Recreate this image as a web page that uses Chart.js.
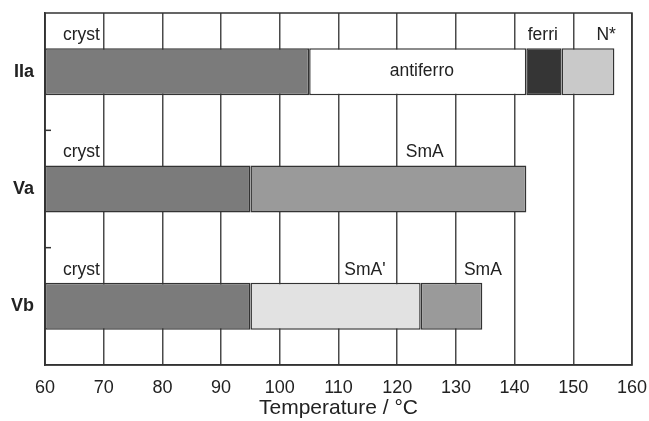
<!DOCTYPE html>
<html>
<head>
<meta charset="utf-8">
<script src="https://cdn.jsdelivr.net/npm/chart.js@4"></script>
<style>
  html, body { margin: 0; padding: 0; background: #fff; }
  #wrap { width: 649px; height: 421px; }
</style>
</head>
<body>
<div id="wrap"><canvas id="myChart"></canvas></div>
<script>
const categories = ["IIa", "Va", "Vb"];

// phase ranges in °C, one entry per compound (null = phase not present)
const crystRange = [[60, 105], [60, 95], [60, 95]];
const antiferroRange = [[105, 142], null, null];
const ferriRange = [[142, 148], null, null];
const nStarRange = [[148, 157], null, null];
const smARange = [null, [95, 142], [124, 134.5]];
const smAPrimeRange = [null, null, [95, 124]];

// phase labels: text, row, temperature where the text is centred, inside bar or above
const labelTexts = ["cryst", "antiferro", "ferri", "N*", "cryst", "SmA", "cryst", "SmA'", "SmA"];
const labelRows = ["IIa", "IIa", "IIa", "IIa", "Va", "Va", "Vb", "Vb", "Vb"];
const labelTemps = [66.2, 124.2, 144.8, 155.6, 66.2, 124.7, 66.2, 114.5, 134.6];
const labelInside = [false, true, false, false, false, false, false, false, false];

const FONT = "'Liberation Sans', Arial, Helvetica, sans-serif";
const INK = "#222";
const EDGE = "#333";

function seg(label, data, color) {
  return {
    label,
    data,
    backgroundColor: color,
    borderColor: EDGE,
    borderWidth: 1.5,
    borderSkipped: false,
    grouped: false,
    barPercentage: 0.4,
    categoryPercentage: 1,
  };
}

const frameAndLabels = {
  id: "frameAndLabels",
  afterDatasetsDraw(chart) {
    const { ctx, chartArea, scales } = chart;
    const x = scales.x;
    const y = scales.y;
    ctx.save();

    // plot frame
    ctx.strokeStyle = EDGE;
    ctx.lineWidth = 1.5;
    ctx.strokeRect(chartArea.left, chartArea.top, chartArea.right - chartArea.left, chartArea.bottom - chartArea.top);

    // small inner ticks between categories
    for (let i = 0; i < categories.length - 1; i++) {
      const yb = (y.getPixelForValue(i) + y.getPixelForValue(i + 1)) / 2;
      ctx.beginPath();
      ctx.moveTo(chartArea.left, yb);
      ctx.lineTo(chartArea.left + 6, yb);
      ctx.stroke();
    }

    // phase labels
    ctx.fillStyle = INK;
    ctx.font = "17.5px " + FONT;
    ctx.textAlign = "center";
    ctx.textBaseline = "middle";
    const meta = chart.getDatasetMeta(0);
    labelTexts.forEach((t, i) => {
      const row = categories.indexOf(labelRows[i]);
      const bar = meta.data[row];
      const px = x.getPixelForValue(labelTemps[i]);
      const py = labelInside[i] ? bar.y : bar.y - bar.height / 2 - 13;
      ctx.fillText(t, px, py);
    });
    ctx.restore();
  },
};

new Chart("myChart", {
  type: "bar",
  data: {
    labels: categories,
    datasets: [
      seg("cryst", crystRange, "#7b7b7b"),
      seg("antiferro", antiferroRange, "#ffffff"),
      seg("ferri", ferriRange, "#353535"),
      seg("N*", nStarRange, "#c9c9c9"),
      seg("SmA", smARange, "#9a9a9a"),
      seg("SmA'", smAPrimeRange, "#e2e2e2"),
    ],
  },
  options: {
    indexAxis: "y",
    responsive: true,
    maintainAspectRatio: false,
    animation: false,
    layout: { padding: { left: 0, right: 17, top: 13, bottom: 0 } },
    plugins: {
      legend: { display: false },
      tooltip: { enabled: false },
    },
    scales: {
      x: {
        type: "linear",
        min: 60,
        max: 160,
        ticks: { stepSize: 10, color: INK, padding: 12, font: { family: FONT, size: 18 } },
        grid: { color: "#4a4a4a", lineWidth: 1.5, drawTicks: false },
        border: { display: true, color: EDGE, width: 1.5 },
        title: {
          display: true,
          text: "Temperature / °C",
          color: INK,
          padding: { top: 0, bottom: 0 },
          font: { family: FONT, size: 21 },
        },
        afterFit(scale) {
          scale.height = 56;
          scale.paddingLeft = 0;
          scale.paddingRight = 0;
        },
      },
      y: {
        type: "category",
        offset: true,
        ticks: { color: INK, padding: 11, font: { family: FONT, size: 18, weight: "bold" } },
        grid: { display: false, drawTicks: false },
        border: { display: true, color: EDGE, width: 1.5 },
        afterFit(scale) {
          scale.width = 45;
          scale.paddingTop = 0;
          scale.paddingBottom = 0;
        },
      },
    },
  },
  plugins: [frameAndLabels],
});
</script>
</body>
</html>
